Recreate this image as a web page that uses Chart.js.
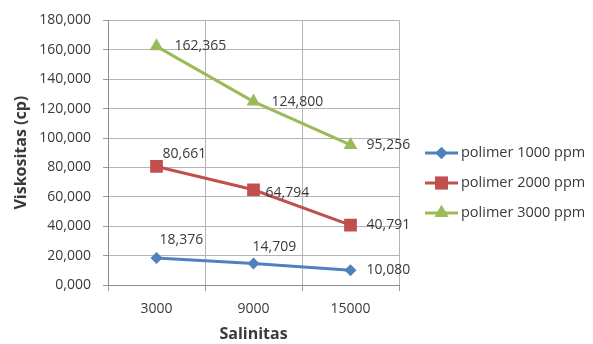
<!DOCTYPE html>
<html>
<head>
<meta charset="utf-8">
<script src="https://cdn.jsdelivr.net/npm/chart.js@4.4.1/dist/chart.umd.min.js"></script>
<style>
  html, body { margin: 0; padding: 0; background: #fff; }
  #wrap { width: 593px; height: 344px; position: relative; }
</style>
</head>
<body>
<div id="wrap"><canvas id="c" width="593" height="344"></canvas></div>
<script>
// Salinity categories (ppm) and viscosity values (cp) per polymer concentration
const salinitas = ['3000', '9000', '15000'];
const polimer1000 = [18.376, 14.709, 10.080];
const polimer2000 = [80.661, 64.794, 40.791];
const polimer3000 = [162.365, 124.800, 95.256];
const seriesNames = ['polimer 1000 ppm', 'polimer 2000 ppm', 'polimer 3000 ppm'];
const yTicks = [0, 20, 40, 60, 80, 100, 120, 140, 160, 180];

const FONT = '"Open Sans", "DejaVu Sans", sans-serif';
const TEXT = '#3A3A3A';

// Indonesian style number: comma as decimal separator, three decimals
const fmt = v => v.toFixed(3).replace('.', ',');

// Where each value label sits relative to its point: [dx to left edge, dy of centre]
const labelPlacement = [
  [[3, -18], [-1, -16], [16, 0]],
  [[6, -12], [12, 3], [16, 0]],
  [[18, 0], [18, 0], [16, 0]]
];

const valueLabels = {
  id: 'valueLabels',
  afterDatasetsDraw(chart) {
    const ctx = chart.ctx;
    ctx.save();
    ctx.font = '14px ' + FONT;
    ctx.fillStyle = TEXT;
    ctx.textAlign = 'left';
    ctx.textBaseline = 'middle';
    chart.data.datasets.forEach((ds, i) => {
      chart.getDatasetMeta(i).data.forEach((pt, j) => {
        const [dx, dy] = labelPlacement[i][j];
        ctx.fillText(fmt(ds.data[j]), pt.x + dx, pt.y + dy);
      });
    });
    ctx.restore();
  }
};

// Legend on the right: line sample with the series marker, then the name
const sideLegend = {
  id: 'sideLegend',
  afterDraw(chart) {
    const ctx = chart.ctx;
    const x0 = 425, x1 = 458, yStart = 153, gap = 30;
    ctx.save();
    chart.data.datasets.forEach((ds, i) => {
      const y = yStart + i * gap;
      ctx.strokeStyle = ds.borderColor;
      ctx.lineWidth = ds.borderWidth;
      ctx.beginPath();
      ctx.moveTo(x0, y);
      ctx.lineTo(x1, y);
      ctx.stroke();
      ctx.fillStyle = ds.backgroundColor;
      Chart.helpers.drawPoint(ctx, {
        pointStyle: ds.pointStyle,
        radius: ds.pointRadius,
        borderWidth: 0,
        rotation: 0
      }, (x0 + x1) / 2, y);
      ctx.fill();
      ctx.font = '14.5px ' + FONT;
      ctx.fillStyle = TEXT;
      ctx.textAlign = 'left';
      ctx.textBaseline = 'middle';
      ctx.fillText(ds.label, x1 + 3, y);
    });
    ctx.restore();
  }
};

const colors = ['#4F81BD', '#C0504D', '#9BBB59'];
const styles = ['rectRot', 'rect', 'triangle'];
const radii = [6, 9, 8];
const values = [polimer1000, polimer2000, polimer3000];

new Chart(document.getElementById('c'), {
  type: 'line',
  data: {
    labels: salinitas,
    datasets: values.map((vals, i) => ({
      label: seriesNames[i],
      data: vals,
      borderColor: colors[i],
      backgroundColor: colors[i],
      borderWidth: 3,
      pointStyle: styles[i],
      pointRadius: radii[i],
      pointHoverRadius: radii[i],
      pointBorderWidth: 0,
      tension: 0
    }))
  },
  options: {
    responsive: false,
    animation: false,
    events: [],
    layout: { padding: { top: 16, right: 194, bottom: 0, left: 0 } },
    plugins: {
      legend: { display: false },
      tooltip: { enabled: false }
    },
    scales: {
      x: {
        offset: true,
        grid: { offset: true, color: '#B4B4B4', lineWidth: 1, tickLength: 6, tickColor: '#9A9A9A' },
        border: { color: '#8C8C8C' },
        ticks: { color: TEXT, font: { family: FONT, size: 14 }, padding: 10 },
        title: {
          display: true, text: 'Salinitas', color: TEXT,
          font: { family: FONT, size: 16, weight: 'bold' }, padding: { top: 0, bottom: 0 }
        },
        afterFit(scale) { scale.height = 59; }
      },
      y: {
        min: 0, max: 180,
        afterBuildTicks(scale) { scale.ticks = yTicks.map(v => ({ value: v })); },
        grid: { color: '#B4B4B4', lineWidth: 1, tickLength: 5, tickColor: '#9A9A9A' },
        border: { color: '#8C8C8C' },
        ticks: {
          color: TEXT, font: { family: FONT, size: 14 }, padding: 12,
          callback: v => fmt(v)
        },
        title: {
          display: true, text: 'Viskositas (cp)', color: TEXT,
          font: { family: FONT, size: 16, weight: 'bold' }, padding: { top: 12, bottom: 0 }
        },
        afterFit(scale) { scale.width = 108; }
      }
    }
  },
  plugins: [valueLabels, sideLegend]
});
</script>
</body>
</html>
